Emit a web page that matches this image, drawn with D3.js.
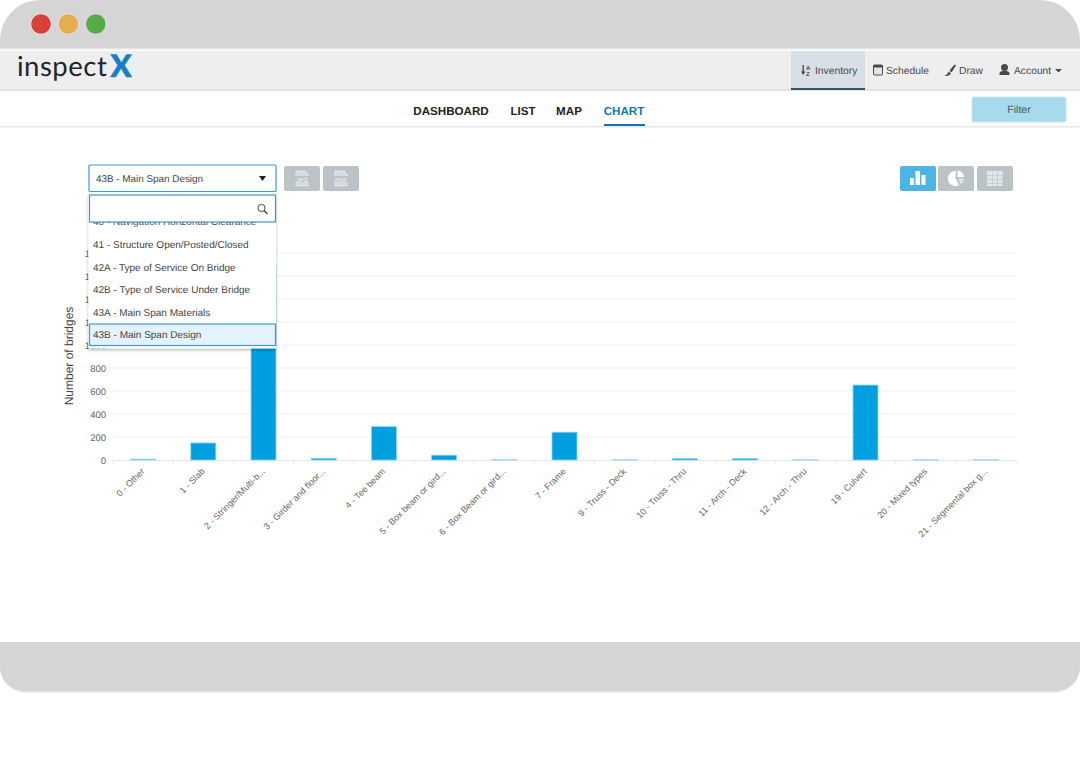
<!DOCTYPE html>
<html>
<head>
<meta charset="utf-8">
<title>inspectX chart</title>
<script src="https://cdnjs.cloudflare.com/ajax/libs/d3/7.8.5/d3.min.js"></script>
<style>
  html, body { margin: 0; padding: 0; background: #fff; }
  svg { display: block; font-family: "Liberation Sans", Arial, sans-serif; text-rendering: geometricPrecision; }
  .x-axis path, .y-axis path, .y-axis line { display: none; }
  .x-axis line { stroke: #e6e6e6; }
</style>
</head>
<body>
<script>
// chart values (the tall bar is cut by the dropdown, so it is a guess)
const categories = ["0 - Other", "1 - Slab", "2 - Stringer/Multi-b...", "3 - Girder and floor...", "4 - Tee beam",
  "5 - Box beam or gird...", "6 - Box Beam or gird...", "7 - Frame", "9 - Truss - Deck", "10 - Truss - Thru",
  "11 - Arch - Deck", "12 - Arch - Thru", "19 - Culvert", "20 - Mixed types", "21 - Segmental box g..."]
const bridges = [8, 148, 1700, 15, 290, 42, 2, 242, 2, 13, 14, 2, 652, 2, 2]
const yTicks = [0, 200, 400, 600, 800, 1000, 1200, 1400, 1600, 1800]

// page chrome text
const menuItems = ["41 - Structure Open/Posted/Closed", "42A - Type of Service On Bridge",
  "42B - Type of Service Under Bridge", "43A - Main Span Materials", "43B - Main Span Design"]
const tabs = ["DASHBOARD", "LIST", "MAP", "CHART"]
const tabX = [451, 523, 569, 624]
const navItems = ["Inventory", "Schedule", "Draw", "Account"]
const navX = [815, 886, 959, 1014]
const dotColors = ["#d8403a", "#e5ad4c", "#53ac45"]

let svg = d3.select("body").append("svg")
  .attr("width", 1080)
  .attr("height", 764)

function box(x, y, w, h, fill, r, stroke) {
  return svg.append("rect").attr("x", x).attr("y", y).attr("width", w).attr("height", h)
    .attr("rx", r || 0).attr("fill", fill).attr("stroke", stroke || "none")
}
function label(x, y, str, size, color, anchor, weight) {
  return svg.append("text").attr("x", x).attr("y", y).text(str)
    .attr("font-size", size).attr("fill", color)
    .attr("text-anchor", anchor || "start").attr("font-weight", weight || "normal")
}

// browser frame, top and bottom
svg.append("path").attr("d", "M0,48V40A40,40 0 0 1 40,0H1040A40,40 0 0 1 1080,40V48Z").attr("fill", "#d5d5d5")
box(0, 48, 1080, 1.5, "#e6e6e6")
svg.append("path").attr("d", "M0,642H1080V667A25,25 0 0 1 1055,692.5H25A25,25 0 0 1 0,667Z").attr("fill", "#e4e4e4")
svg.append("path").attr("d", "M0,642H1080V666A25,25 0 0 1 1055,691H25A25,25 0 0 1 0,666Z").attr("fill", "#d5d5d5")
svg.selectAll("circle.dot").data(dotColors).enter().append("circle")
  .attr("class", "dot")
  .attr("cx", (d, i) => 41 + i * 27.4)
  .attr("cy", 24)
  .attr("r", 10.3)
  .attr("fill", d => d)
  .attr("stroke", "#e4e4e4")

// nav bar
box(0, 51, 1080, 38, "#eeeeee")
box(0, 89, 1080, 2, "#e2e2e8")
box(791, 51, 74, 38, "#d9dfe7")
box(791, 88, 74, 2, "#3c5266")
label(17, 76, "inspect", 27.5, "#1e2530").attr("font-family", "Lato").attr("letter-spacing", 0.5)
label(110.5, 77, "X", 31, "#1580c6", "start", 900).attr("font-family", "Lato")
  .attr("stroke", "#1580c6").attr("stroke-width", 0.6)
svg.selectAll("text.nav").data(navItems).enter().append("text")
  .attr("class", "nav")
  .attr("x", (d, i) => navX[i])
  .attr("y", 74)
  .attr("font-size", 10.3)
  .attr("fill", "#4a4a4a")
  .text(d => d)
// nav icons
box(802.5, 65, 1.4, 9, "#4a4a4a")
svg.append("path").attr("d", "M801,71.5H805.4L803.2,75Z").attr("fill", "#4a4a4a")
svg.append("text").attr("x", 806).attr("y", 70).attr("font-size", 6).attr("font-weight", "bold").attr("fill", "#4a4a4a").text("A")
svg.append("text").attr("x", 806).attr("y", 75.5).attr("font-size", 6).attr("font-weight", "bold").attr("fill", "#4a4a4a").text("Z")
box(873.5, 65, 9, 10, "#e4e4e4", 1, "#4a4a4a")
box(873.5, 65, 9, 2.5, "#4a4a4a")
svg.append("path").attr("d", "M943.5,75.5C947,75.5 947.5,73.5 948.5,71.5L951,73.5C950,75.5 947,76.5 943.5,75.5ZM949.5,70.5L954.5,64.5L956,65.5L951.5,72.5Z").attr("fill", "#4a4a4a")
svg.append("circle").attr("cx", 1004.5).attr("cy", 67.5).attr("r", 3.5).attr("fill", "#4a4a4a")
svg.append("path").attr("d", "M999.5,75V73.5C999.5,71.5 1002,71 1004.5,71C1007,71 1009.5,71.5 1009.5,73.5V75Z").attr("fill", "#4a4a4a")
svg.append("path").attr("d", "M1055,69H1062L1058.5,72.5Z").attr("fill", "#4a4a4a")

// tabs row
svg.selectAll("text.tab").data(tabs).enter().append("text")
  .attr("class", "tab")
  .attr("x", (d, i) => tabX[i])
  .attr("y", 114.7)
  .attr("text-anchor", "middle")
  .attr("font-size", 11.6)
  .attr("font-weight", "bold")
  .attr("fill", d => d === "CHART" ? "#1277b8" : "#222")
  .text(d => d)
box(604, 124, 41, 2, "#1277b8")
box(0, 126, 1080, 1.5, "#e6e6e6")
box(972, 97, 94, 25, "#a5dbeb", 2, "#c4e4ee")
label(1019, 113, "Filter", 10.5, "#4a5a60", "middle")

// chart scales
const margin = { left: 113, right: 1016, top: 253, bottom: 460 }
let x = d3.scaleBand().domain(categories).range([margin.left, margin.right])
let y = d3.scaleLinear().domain([0, 1800]).range([margin.bottom, margin.top])

// gridlines
svg.append("g").selectAll("line").data(yTicks.slice(1)).enter().append("line")
  .attr("x1", margin.left).attr("x2", margin.right)
  .attr("y1", d => y(d)).attr("y2", d => y(d))
  .attr("stroke", "#efefef")

// x axis with rotated labels
let xAxis = svg.append("g")
  .attr("class", "x-axis")
  .attr("transform", `translate(0,${margin.bottom})`)
  .call(d3.axisBottom(x).tickSize(0).tickPadding(0))
xAxis.selectAll("text").remove()
xAxis.selectAll("g.tick").append("text")
  .attr("fill", "#666")
  .attr("font-size", 9)
  .attr("text-anchor", "end")
  .attr("transform", "translate(2,12) rotate(-45)")
  .text(d => d)
svg.append("line").attr("x1", margin.left).attr("x2", margin.right)
  .attr("y1", margin.bottom + 0.5).attr("y2", margin.bottom + 0.5).attr("stroke", "#e6e6e6")
svg.append("g").selectAll("line").data(categories.map((d, i) => margin.left + i * x.bandwidth()).concat(margin.right))
  .enter().append("line")
  .attr("x1", d => d).attr("x2", d => d)
  .attr("y1", margin.bottom).attr("y2", margin.bottom + 4)
  .attr("stroke", "#e6e6e6")

// y axis
svg.append("g")
  .attr("class", "y-axis")
  .attr("transform", `translate(${margin.left},0)`)
  .call(d3.axisLeft(y).tickValues(yTicks).tickFormat(d3.format("d")).tickSize(0).tickPadding(7))
  .selectAll("text")
  .attr("fill", "#666")
  .attr("font-size", 9.5)
  .attr("font-family", "Liberation Sans")
svg.append("text")
  .attr("transform", "translate(73,356) rotate(-90)")
  .attr("text-anchor", "middle")
  .attr("font-size", 12)
  .attr("fill", "#444")
  .text("Number of bridges")

// bars
svg.append("g").selectAll("rect").data(bridges).enter().append("rect")
  .attr("x", (d, i) => x(categories[i]) + x.bandwidth() / 2 - 12.5)
  .attr("y", d => y(d))
  .attr("width", 25)
  .attr("height", d => margin.bottom - y(d))
  .attr("fill", "#009fdf")
  .attr("stroke", "#8fd6f1")
  .attr("stroke-width", 0.8)

// export and chart type buttons
box(284, 166, 36, 25, "#bcc3c7", 2)
box(323, 166, 36, 25, "#bcc3c7", 2)
box(900, 166, 36, 25, "#4cb5e6", 2)
box(938, 166, 36, 25, "#bcc3c7", 2)
box(977, 166, 36, 25, "#bcc3c7", 2)
const fileIconX = [302, 341]
const fileIconText = ["JPG", "PDF"]
fileIconX.forEach((cx, i) => {
  svg.append("path").attr("d", `M${cx - 6},171H${cx + 3}L${cx + 6},174V186H${cx - 6}Z`)
    .attr("fill", "#d7dcde").attr("stroke", "#e4e8ea").attr("stroke-width", 1)
  box(cx - 7, 176, 14, 6, "#bcc3c7")
  label(cx, 181.5, fileIconText[i], 6, "#e4e8ea", "middle", "bold")
})
// mini bars on the active button
box(910, 178, 4, 7, "#fff")
box(915.5, 171, 4.5, 14, "#fff")
box(921.5, 175, 4, 10, "#fff")
svg.append("path").attr("d", "M956,171A7.5,7.5 0 1 0 959,185L955.5,178Z").attr("fill", "#fff")
svg.append("path").attr("d", "M957.5,170.5A7.5,7.5 0 0 1 964,177L957.5,177Z").attr("fill", "#fff")
svg.append("path").attr("d", "M958,179L964,178.5A7.5,7.5 0 0 1 961,184Z").attr("fill", "#fff").attr("opacity", 0.6)
box(987, 171, 15.5, 15, "#e3e6e7")
const gridLinesH = [175, 179, 183]
const gridLinesV = [992, 997]
gridLinesH.forEach(v => box(987, v, 15.5, 0.6, "#bcc3c7"))
gridLinesV.forEach(v => box(v, 171, 0.6, 15, "#bcc3c7"))

// dropdown select
box(89, 165, 187, 26.5, "#fff", 1, "#3e9bd1").attr("stroke-width", 1.2)
label(96, 181.5, "43B - Main Span Design", 9.9, "#444")
svg.append("path").attr("d", "M259,176H266L262.5,181Z").attr("fill", "#222")

// dropdown panel
svg.append("defs").append("filter").attr("id", "panelShadow")
  .append("feDropShadow").attr("dx", 0).attr("dy", 1.5).attr("stdDeviation", 1.5).attr("flood-color", "#000").attr("flood-opacity", 0.3)
box(88.5, 194, 187.5, 154.5, "#fff", 0).attr("filter", "url(#panelShadow)")
// half hidden item scrolled off under the search box
label(93, 224.5, "40 - Navigation Horizontal Clearance", 10, "#555")
box(89.5, 195, 186, 27, "#fff", 0, "#3e9bd1").attr("stroke-width", 1.2)
svg.append("circle").attr("cx", 261.5).attr("cy", 208).attr("r", 3.6).attr("fill", "none").attr("stroke", "#444").attr("stroke-width", 1)
svg.append("line").attr("x1", 264).attr("y1", 210.5).attr("x2", 267.5).attr("y2", 214).attr("stroke", "#444").attr("stroke-width", 1.4)
box(89.5, 324, 186, 21.5, "#e3f2fc", 0, "#3e9bd1").attr("stroke-width", 1.2)
svg.selectAll("text.item").data(menuItems).enter().append("text")
  .attr("class", "item")
  .attr("x", 93)
  .attr("y", (d, i) => 248 + i * 22.6)
  .attr("font-size", 10)
  .attr("fill", "#444")
  .text(d => d)
</script>
</body>
</html>
